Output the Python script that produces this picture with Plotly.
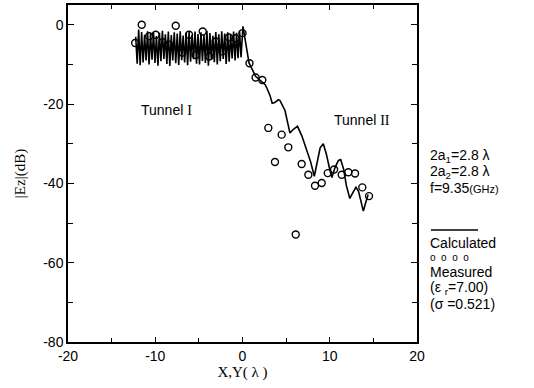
import plotly.graph_objects as go

# Calculated curve (|Ez| in dB vs position in wavelengths)
calc_x = [-12.24, -12.07, -11.90, -11.73, -11.56, -11.39, -11.22, -11.05, -10.88, -10.71,
          -10.54, -10.37, -10.20, -10.03, -9.86, -9.69, -9.52, -9.35, -9.18, -9.01,
          -8.84, -8.67, -8.50, -8.33, -8.16, -7.99, -7.82, -7.65, -7.48, -7.31,
          -7.14, -6.97, -6.80, -6.63, -6.46, -6.29, -6.12, -5.95, -5.78, -5.61,
          -5.44, -5.27, -5.10, -4.93, -4.76, -4.59, -4.42, -4.25, -4.08, -3.91,
          -3.74, -3.57, -3.40, -3.23, -3.06, -2.89, -2.72, -2.55, -2.38, -2.21,
          -2.04, -1.87, -1.70, -1.53, -1.36, -1.19, -1.02, -0.85, -0.68, -0.51,
          -0.34, -0.17,
          0.05, 0.75, 1.5, 2.0, 2.6, 2.8, 3.15, 3.4, 3.7, 4.1, 4.3, 4.87, 5.2, 5.44,
          5.8, 6.3, 6.8, 7.36, 7.8, 8.23, 8.6, 8.9, 9.26, 9.6, 10.0, 10.25, 10.6,
          11.0, 11.25, 11.6, 11.9, 12.3, 12.6, 13.0, 13.3, 13.6, 13.85, 14.1, 14.4]
calc_y = [-3.0, -9.8, -1.2, -10.2, -1.8, -9.5, -2.5, -9.0, -1.6, -10.0,
          -2.2, -8.8, -1.9, -9.6, -2.8, -10.3, -2.0, -9.2, -1.5, -8.6,
          -2.4, -9.9, -1.7, -10.4, -2.6, -9.0, -1.9, -9.7, -2.2, -10.1,
          -1.6, -8.9, -2.7, -9.5, -2.0, -10.2, -1.8, -9.3, -2.5, -8.7,
          -1.7, -9.8, -2.3, -10.0, -1.9, -9.1, -2.6, -9.6, -1.5, -10.3,
          -2.1, -8.8, -2.8, -9.4, -1.8, -10.0, -2.4, -9.2, -1.6, -8.6,
          -2.2, -9.9, -1.9, -9.3, -2.6, -8.5, -1.7, -9.0, -2.0, -8.4,
          -1.5, -8.2,
          -0.4, -9.6, -13.0, -13.9, -15.1, -16.0, -17.8, -19.8, -19.6, -18.9, -19.1, -21.6, -24.5, -27.3,
          -26.4, -25.6, -28.0, -31.5, -34.5, -38.2, -34.0, -31.0, -30.0, -32.5, -36.5, -38.5, -36.0,
          -34.2, -34.0, -36.5, -40.5, -43.8, -42.5, -41.0, -42.0, -45.0, -47.0, -45.0, -42.8]

# Measured points
meas_x = [-12.3, -11.55, -10.7, -9.95, -9.15, -8.4, -7.65, -6.9, -6.13, -5.37,
          -4.56, -3.8, -3.07, -2.3, -1.55, -0.8, 0.0, 0.8, 1.5, 2.27,
          2.96, 3.72, 4.49, 5.25, 6.1, 6.78, 7.55, 8.31, 9.08, 9.77,
          10.5, 11.37, 12.13, 12.9, 13.73, 14.5]
meas_y = [-4.6, 0.0, -2.9, -2.5, -4.4, -5.0, -0.25, -7.0, -2.5, -7.6,
          -1.7, -8.0, -4.2, -6.7, -3.2, -3.4, -2.1, -9.7, -13.3, -13.9,
          -26.0, -34.6, -27.7, -30.9, -52.9, -35.1, -37.8, -40.6, -39.9, -37.4,
          -36.5, -37.8, -37.2, -37.5, -41.0, -43.2]

x_ticks = [-20, -10, 0, 10, 20]
y_ticks = [0, -20, -40, -60, -80]

fig = go.Figure()
fig.add_trace(go.Scatter(x=calc_x, y=calc_y, mode="lines",
                         line=dict(color="black", width=1.6), showlegend=False))
fig.add_trace(go.Scatter(x=meas_x, y=meas_y, mode="markers",
                         marker=dict(symbol="circle-open", size=7, color="black",
                                     line=dict(width=1.4)), showlegend=False))

tickfont = dict(family="Liberation Sans, Arial, sans-serif", size=14, color="black")
fig.update_xaxes(range=[-20, 20], tickvals=x_ticks, ticktext=[str(v) for v in x_ticks],
                 ticks="inside", ticklen=5, tickwidth=1, tickcolor="black",
                 minor=dict(dtick=5, ticks="inside", ticklen=4, tickcolor="black"),
                 showline=True, linecolor="black", linewidth=1.5, mirror="ticks",
                 showgrid=False, zeroline=False, tickfont=tickfont, automargin=False,
                 title=dict(text="X,Y( λ )", font=dict(family="Liberation Serif, serif", size=15, color="black"),
                            standoff=3))
fig.update_yaxes(range=[-80, 5], tickvals=y_ticks, ticktext=["0", "-20", "-40", "-60", "-80"],
                 ticks="inside", ticklen=6, tickwidth=1, tickcolor="black",
                 minor=dict(tickvals=[-10, -30, -50, -70], ticks="inside", ticklen=5, tickcolor="black"),
                 showline=True, linecolor="black", linewidth=1.5, mirror="ticks",
                 showgrid=False, zeroline=False, tickfont=tickfont, automargin=False,
                 title=dict(text="|Ez|(dB)", font=dict(family="Liberation Serif, serif", size=15, color="black"),
                            standoff=14))

sans = "Liberation Sans, Arial, sans-serif"
serif_I = "<span style='font-family:Liberation Serif'>I</span>"
serif_II = "<span style='font-family:Liberation Serif'>II</span>"
ann = [
    dict(x=-8.7, y=-21.4, text="Tunnel " + serif_I),
    dict(x=13.7, y=-23.9, text="Tunnel " + serif_II),
]
for a in ann:
    fig.add_annotation(x=a["x"], y=a["y"], xref="x", yref="y", text=a["text"],
                       showarrow=False, font=dict(family=sans, size=14, color="black"))

def px_x(px):
    return (px - 68) / 349.0

def px_y(py):
    return (342 - py) / 337.0

right_lines = [
    (156, "2a<sub>1</sub>=2.8 λ"),
    (172, "2a<sub>2</sub>=2.8 λ"),
    (188, "f=9.35<span style='font-size:11px'>(GHz)</span>"),
    (243, "Calculated"),
    (257, "<span style='font-size:10px'>o  o  o  o</span>"),
    (272, "Measured"),
    (288, "(ε <sub>r</sub>=7.00)"),
    (304, "(σ =0.521)"),
]
for py, txt in right_lines:
    fig.add_annotation(x=px_x(428), y=px_y(py), xref="paper", yref="paper", text=txt,
                       showarrow=False, xanchor="left", yanchor="middle",
                       font=dict(family=sans, size=14, color="black"))

fig.add_shape(type="line", xref="paper", yref="paper",
              x0=px_x(431), x1=px_x(478), y0=px_y(230), y1=px_y(230),
              line=dict(color="black", width=1.3))

fig.update_layout(width=534, height=388, margin=dict(l=68, r=117, t=5, b=46),
                  plot_bgcolor="white", paper_bgcolor="white", showlegend=False)

fig.write_html("out.html", config={"displayModeBar": False},
               post_script="document.body.style.margin='0';")
